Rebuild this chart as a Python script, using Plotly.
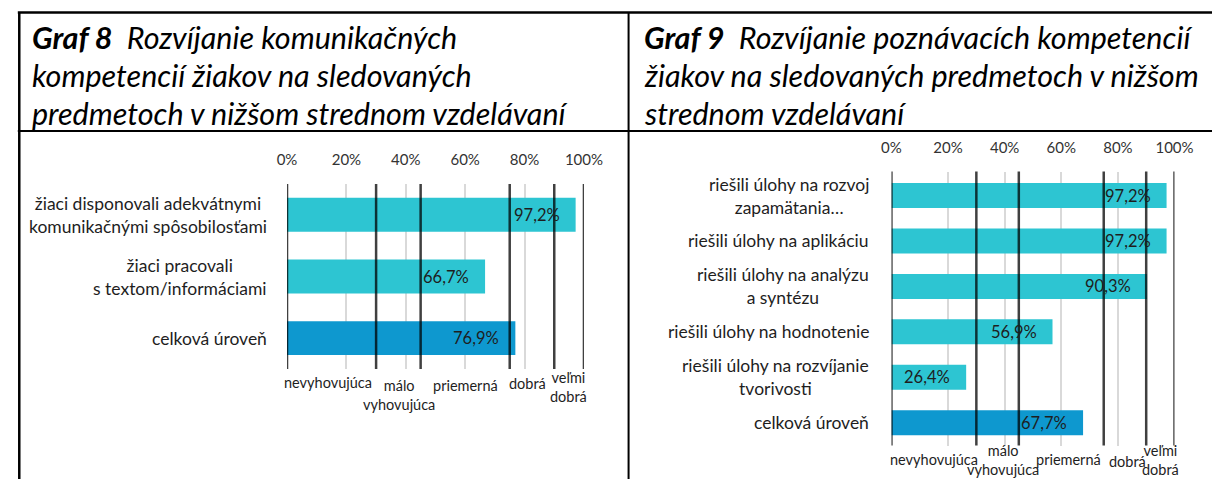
import plotly.graph_objects as go

W, H = 1231, 479

# ---------------- data ----------------
cats8 = ["žiaci disponovali adekvátnymi<br>komunikačnými spôsobilosťami",
         "žiaci pracovali<br>s textom/informáciami",
         "celková úroveň"]
vals8 = [97.2, 66.7, 76.9]

cats9 = ["riešili úlohy na rozvoj<br>zapamätania…",
         "riešili úlohy na aplikáciu",
         "riešili úlohy na analýzu<br>a syntézu",
         "riešili úlohy na hodnotenie",
         "riešili úlohy na rozvíjanie<br>tvorivosti",
         "celková úroveň"]
vals9 = [97.2, 97.2, 90.3, 56.9, 26.4, 67.7]

level_bounds = [0, 30, 45, 75, 90, 100]
level_names = ["nevyhovujúca", "málo<br>vyhovujúca", "priemerná", "dobrá", "veľmi<br>dobrá"]

tick_vals = [0, 20, 40, 60, 80, 100]
tick_text = ["0%", "20%", "40%", "60%", "80%", "100%"]

title8 = ["<b>Graf 8</b>  Rozvíjanie komunikačných",
          "kompetencií žiakov na sledovaných",
          "predmetoch v nižšom strednom vzdelávaní"]
title9 = ["<b>Graf 9</b>  Rozvíjanie poznávacích kompetencií",
          "žiakov na sledovaných predmetoch v nižšom",
          "strednom vzdelávaní"]

# ---------------- style ----------------
FONT = "Lato"
C_LIGHT = "#2DC5D2"
C_DARK = "#0E98CF"
TXT = "#1e1e1e"


def px(x):
    return x / W


def py(y):
    return 1 - y / H


def bar_colors(cats):
    return [C_DARK if c == "celková úroveň" else C_LIGHT for c in cats]


def fmt(v):
    return f"{v:.1f}".replace(".", ",") + "%"


fig = go.Figure()
fig.add_trace(go.Bar(x=vals8, y=cats8, orientation="h", marker_color=bar_colors(cats8),
                     marker_line_width=0, xaxis="x", yaxis="y", hoverinfo="skip"))
fig.add_trace(go.Bar(x=vals9, y=cats9, orientation="h", marker_color=bar_colors(cats9),
                     marker_line_width=0, xaxis="x2", yaxis="y2", hoverinfo="skip"))

xcommon = dict(range=[0, 100], side="top", tickvals=tick_vals, ticktext=tick_text,
               showgrid=True, gridcolor="#D9D9D9", gridwidth=2, zeroline=False,
               showline=False, ticks="outside", ticklen=12, tickcolor="rgba(0,0,0,0)",
               tickfont=dict(family=FONT, size=15, color="#333333"), fixedrange=True)
ycommon = dict(type="category", autorange="reversed", showticklabels=False,
               showgrid=False, zeroline=False, showline=False, fixedrange=True)

fig.update_layout(
    width=W, height=H, autosize=False,
    margin=dict(l=0, r=0, t=0, b=0),
    paper_bgcolor="white", plot_bgcolor="white",
    showlegend=False, bargap=0.45,
    font=dict(family=FONT, color=TXT),
    xaxis=dict(domain=[px(283.7), px(587.8)], anchor="y", **xcommon),
    yaxis=dict(domain=[py(369), py(184)], anchor="x", **ycommon),
    xaxis2=dict(domain=[px(902.7), px(1192.6)], anchor="y2", **xcommon),
    yaxis2=dict(domain=[py(445.5), py(171.5)], anchor="x2", **ycommon),
)

shapes = []
annots = []

# threshold lines
for xa, ya in (("x", "y domain"), ("x2", "y2 domain")):
    for b in level_bounds:
        shapes.append(dict(type="line", xref=xa, yref=ya, x0=b, x1=b, y0=0, y1=1,
                           line=dict(color="rgba(0,0,0,0.75)", width=2.5), layer="above"))

# frame
frame_col = "black"
shapes += [
    dict(type="line", xref="paper", yref="paper", x0=px(8), x1=1, y0=py(12.5), y1=py(12.5),
         line=dict(color=frame_col, width=2.5)),
    dict(type="line", xref="paper", yref="paper", x0=px(9.5), x1=px(9.5), y0=py(12), y1=0,
         line=dict(color=frame_col, width=2.5)),
    dict(type="line", xref="paper", yref="paper", x0=px(633.5), x1=px(633.5), y0=py(12), y1=0,
         line=dict(color=frame_col, width=2)),
    dict(type="line", xref="paper", yref="paper", x0=px(8), x1=1, y0=py(131), y1=py(131),
         line=dict(color=frame_col, width=2)),
]

# titles
title_rows = [37, 75, 113]
for lines, x0 in ((title8, 20), (title9, 647)):
    for t, yy in zip(lines, title_rows):
        annots.append(dict(text=f"<i>{t}</i>", xref="paper", yref="paper", x=px(x0), y=py(yy),
                           xanchor="left", yanchor="middle", showarrow=False,
                           font=dict(family=FONT, size=30.5, color="black")))

# category labels
for cats, ya, xr in ((cats8, "y", 265), (cats9, "y2", 882)):
    for c in cats:
        annots.append(dict(text=c, xref="paper", yref=ya, x=px(xr), y=c, xanchor="right",
                           yanchor="middle", align="center", showarrow=False,
                           font=dict(family=FONT, size=17.5, color=TXT)))

# value labels
for cats, vals, xa, ya in ((cats8, vals8, "x", "y"), (cats9, vals9, "x2", "y2")):
    for c, v in zip(cats, vals):
        annots.append(dict(text=fmt(v), xref=xa, yref=ya, x=v, y=c, xanchor="right",
                           yanchor="middle", xshift=-14, showarrow=False,
                           font=dict(family=FONT, size=16.5, color=TXT)))

# level labels (centred in their bands, small nudges as in the original)
mids = [(a + b) / 2 for a, b in zip(level_bounds[:-1], level_bounds[1:])]
lvl_y8 = [382, 394.5, 385.7, 383.3, 387.3]
lvl_dx8 = [-4, 1, 0, -4, -1]
lvl_y9 = [459, 459.5, 459, 461.7, 460]
lvl_dx9 = [0, 5, 7, 3, 0]
for xa, ys, dxs in (("x", lvl_y8, lvl_dx8), ("x2", lvl_y9, lvl_dx9)):
    for name, m, yy, dx in zip(level_names, mids, ys, dxs):
        annots.append(dict(text=name, xref=xa, yref="paper", x=m, y=py(yy), xanchor="center",
                           yanchor="middle", align="center", showarrow=False, xshift=dx,
                           font=dict(family=FONT, size=14.5, color=TXT)))

fig.update_layout(shapes=shapes, annotations=annots)
fig.write_html("out.html", config={"displayModeBar": False},
               post_script="document.body.style.margin='0px';document.body.style.overflow='hidden';")
